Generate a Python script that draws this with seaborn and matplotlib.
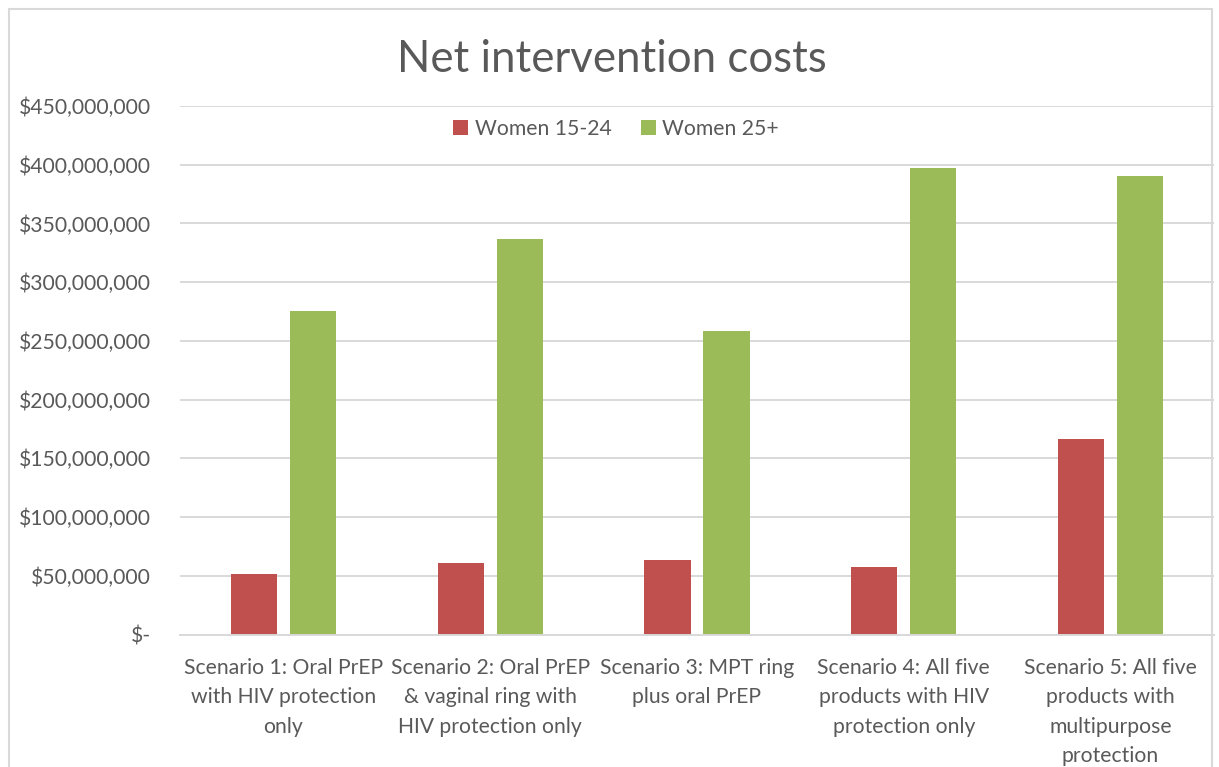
import matplotlib
matplotlib.use("Agg")
import matplotlib.pyplot as plt
from matplotlib.patches import Patch
from matplotlib.lines import Line2D
from matplotlib.ticker import FuncFormatter, MultipleLocator
import pandas as pd
import seaborn as sns

# Scenario labels (line breaks as shown under the axis)
scenarios = [
    "Scenario 1: Oral PrEP\nwith HIV protection\nonly",
    "Scenario 2: Oral PrEP\n& vaginal ring with\nHIV protection only",
    "Scenario 3: MPT ring\nplus oral PrEP",
    "Scenario 4: All five\nproducts with HIV\nprotection only",
    "Scenario 5: All five\nproducts with\nmultipurpose\nprotection",
]
groups = ["Women 15-24", "Women 25+"]
women_15_24 = [51.5e6, 61.1e6, 63.7e6, 57.4e6, 166.8e6]
women_25_plus = [275.3e6, 336.4e6, 258.0e6, 397.2e6, 390.1e6]
colors = ["#C0504D", "#9BBB59"]

df = pd.DataFrame({
    "Scenario": scenarios * 2,
    "Group": [groups[0]] * len(scenarios) + [groups[1]] * len(scenarios),
    "Cost": women_15_24 + women_25_plus,
})

sns.set_theme(style="white")
plt.rcParams["font.family"] = ["Lato", "DejaVu Sans"]

TEXT = "#595959"
GRID = "#D9D9D9"
W, H = 1219, 767
FS = 15.2

fig = plt.figure(figsize=(W / 100, H / 100), dpi=100)
ax = fig.add_axes([180 / W, 132.5 / H, 1034 / W, 528.5 / H])

sns.barplot(data=df, x="Scenario", y="Cost", hue="Group", hue_order=groups,
            palette=colors, width=0.571, gap=0.22, saturation=1,
            legend=False, ax=ax, edgecolor="none")

ax.set_xlim(-0.5, len(scenarios) - 0.5)
ax.set_ylim(0, 450e6)
ax.yaxis.set_major_locator(MultipleLocator(50e6))
ax.yaxis.set_major_formatter(
    FuncFormatter(lambda v, _: "$-" if v == 0 else f"${v:,.0f}"))
ax.set_xlabel("")
ax.set_ylabel("")

ax.grid(axis="y", color=GRID, linewidth=1.4)
ax.set_axisbelow(True)
for side in ["left", "right", "top"]:
    ax.spines[side].set_visible(False)
ax.spines["bottom"].set_color(GRID)
ax.spines["bottom"].set_linewidth(1.4)

ax.tick_params(axis="y", length=0, pad=21, labelsize=FS, labelcolor=TEXT)
ax.tick_params(axis="x", length=0, pad=17, labelsize=FS, labelcolor=TEXT)
for lbl in ax.get_xticklabels():
    lbl.set_linespacing(1.58)

fig.text(612 / W, 1 - 60 / H, "Net intervention costs", ha="center",
         va="center", fontsize=31.5, color=TEXT)

handles = [Patch(facecolor=c, edgecolor="none", label=g)
           for c, g in zip(colors, groups)]
fig.legend(handles=handles, loc="center", bbox_to_anchor=(616 / W, 1 - 129 / H),
           ncol=2, frameon=False, fontsize=FS, labelcolor=TEXT,
           handlelength=0.7, handleheight=0.7, handletextpad=0.3,
           columnspacing=1.4)

# light chart-area border
for xs, ys in [((9 / W, 9 / W), (0, 1 - 9 / H)),
               ((9 / W, 1212 / W), (1 - 9 / H, 1 - 9 / H)),
               ((1212 / W, 1212 / W), (0, 1 - 9 / H))]:
    fig.add_artist(Line2D(xs, ys, color=GRID, linewidth=1.5,
                          transform=fig.transFigure))

fig.savefig("out.png", dpi=100)
